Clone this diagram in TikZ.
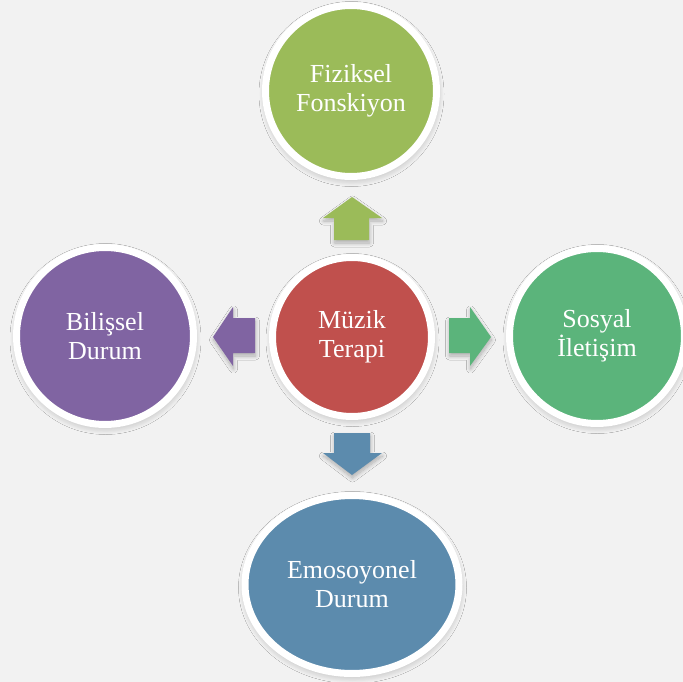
\documentclass[tikz,border=0pt]{standalone}
\usepackage{fontspec}
\setmainfont{Liberation Serif}
\usetikzlibrary{shadows.blur,shapes.geometric}
\definecolor{bgc}{HTML}{F2F2F2}
\definecolor{cgreen}{HTML}{9BBB59}
\definecolor{cred}{HTML}{C0504D}
\definecolor{cpurple}{HTML}{8064A2}
\definecolor{cteal}{HTML}{5BB47B}
\definecolor{cblue}{HTML}{5C8BAD}
\tikzset{
  shd/.style={blur shadow={shadow xshift=0.5pt, shadow yshift=-3pt, shadow blur radius=7pt, shadow blur steps=16, shadow opacity=28}},
  bubble/.style={circle, draw=white, line width=7pt, inner sep=0pt, text=white, align=center,
    font=\fontsize{26}{29}\selectfont, shd},
  blockarrow/.style={draw=none, blur shadow={shadow xshift=0.5pt, shadow yshift=-3pt, shadow blur radius=4pt, shadow blur steps=10, shadow opacity=28}}
}
\begin{document}
\begin{tikzpicture}[x=1pt,y=-1pt]
\fill[bgc] (0,0) rectangle (683,682);
\useasboundingbox (0,0) rectangle (683,682);
% arrows
\fill[cgreen, blockarrow] (352,197) -- (382,218) -- (369,218) -- (369,240) -- (334,240) -- (334,218) -- (323,218) -- cycle;
\fill[cpurple, blockarrow] (213,337) -- (233,307) -- (233,318) -- (255,318) -- (255,353) -- (233,353) -- (233,366) -- cycle;
\fill[cteal, blockarrow] (491,337) -- (470,307) -- (470,318) -- (449,318) -- (449,353) -- (470,353) -- (470,366) -- cycle;
\fill[cblue, blockarrow] (352,475) -- (382,453) -- (370,453) -- (370,433) -- (334,433) -- (334,453) -- (323,453) -- cycle;
% circles
\node[bubble, fill=cgreen, minimum size=171pt] (fiz) at (351,91) {Fiziksel\\Fonskiyon};
\node[bubble, fill=cpurple, minimum size=177pt] (bil) at (105,336) {Bilişsel\\Durum};
\node[bubble, fill=cteal, minimum size=175pt] (sos) at (597,336) {Sosyal\\İletişim};
\node[bubble, ellipse, fill=cblue, minimum width=214pt, minimum height=178pt] (emo) at (352,584.5) {Emosoyonel\\Durum};
\node[bubble, fill=cred, minimum size=159pt] (muz) at (352,337) {Müzik\\Terapi};
\end{tikzpicture}
\end{document}
